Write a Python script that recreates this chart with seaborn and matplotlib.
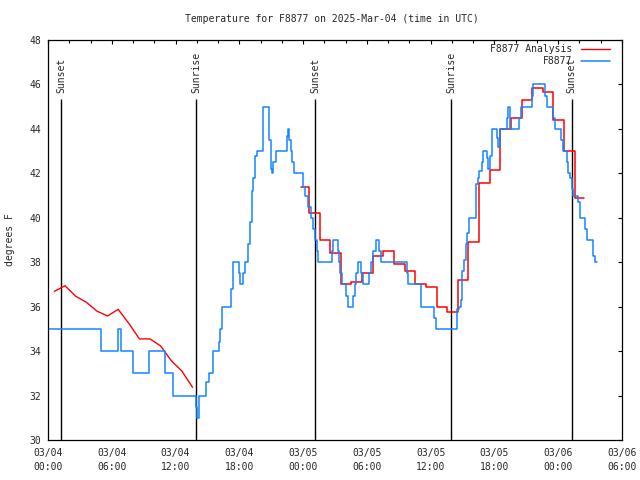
import pandas as pd
import numpy as np
import matplotlib
matplotlib.use("Agg")
import matplotlib.pyplot as plt
import matplotlib.dates as mdates
import seaborn as sns

# ---------------- data (hours after 2025-03-04 00:00 UTC) ----------------
obs_hours = [0.00, 4.94, 6.63, 6.91, 7.95, 9.50, 11.01, 11.76, 13.95, 14.06,
             14.25, 14.86, 15.10, 15.52, 16.09, 16.18, 16.37, 17.22, 17.36, 17.45,
             17.97, 18.06, 18.37, 18.53, 18.84, 19.00, 19.16, 19.31, 19.47, 19.63,
             20.25, 20.76, 20.98, 21.10, 21.19, 21.42, 22.51, 22.61, 22.70, 22.83,
             22.98, 23.14, 23.99, 24.18, 24.46, 24.71, 24.96, 25.12, 25.28, 25.43,
             26.69, 26.84, 27.25, 27.40, 27.47, 27.63, 28.01, 28.19, 28.72, 28.88,
             28.97, 29.13, 29.42, 29.66, 30.22, 30.36, 30.60, 30.86, 31.17, 31.30,
             33.74, 33.90, 35.09, 36.31, 36.47, 38.50, 38.66, 38.82, 38.97, 39.13,
             39.29, 39.39, 39.60, 40.26, 40.42, 40.57, 40.80, 40.95, 41.27, 41.42,
             41.58, 41.74, 42.27, 42.36, 42.52, 43.15, 43.30, 43.46, 44.31, 44.50,
             45.50, 45.65, 46.75, 46.91, 47.54, 47.69, 48.23, 48.42, 48.80, 48.95,
             49.11, 49.27, 49.42, 49.83, 50.05, 50.52, 50.67, 51.29, 51.45, 51.69]
obs_temps = [35, 34, 35, 34, 33, 34, 33, 32, 31.5, 31,
             32, 32.6, 33, 34, 34.4, 35, 36, 36.8, 37.5, 38,
             37.5, 37, 37.5, 38, 38.8, 39.8, 41.2, 41.8, 42.8, 43,
             45, 43.5, 42.2, 42, 42.5, 43, 43.7, 44, 43.5, 43,
             42.5, 42, 41.4, 41, 40.5, 40, 39.5, 39, 38.5, 38,
             38.5, 39, 38.5, 38, 37.5, 37, 36.5, 36, 36.5, 37,
             37.5, 38, 37.5, 37, 37.5, 38, 38.5, 39, 38.5, 38,
             37.5, 37, 36, 35.5, 35, 35.9, 36, 36.3, 37.6, 38.1,
             38.8, 39.3, 40, 41.5, 41.8, 42.1, 42.5, 43, 42.7, 42.2,
             42.8, 44, 43.6, 43.2, 44, 44.5, 45, 44, 44.5, 45,
             45.5, 46, 45.5, 45, 44.5, 44, 43.5, 43, 42.5, 42,
             41.8, 41.3, 41, 40.7, 40, 39.5, 39, 38.3, 38, 38]

ana1_hours = [0.6, 1.6, 2.6, 3.6, 4.6, 5.6, 6.6, 7.6, 8.6, 9.6, 10.6, 11.6, 12.6, 13.6]
ana1_temps = [36.69, 36.94, 36.47, 36.2, 35.8, 35.58, 35.88, 35.25, 34.55, 34.55,
              34.23, 33.57, 33.1, 32.37]

ana2_hours = [23.82, 24.55, 25.55, 26.55, 27.55, 28.55, 29.55, 30.55, 31.55, 32.55,
              33.55, 34.55, 35.55, 36.55, 37.55, 38.55, 39.55, 40.55, 41.55, 42.55,
              43.55, 44.55, 45.55, 46.55, 47.55, 48.55, 49.55, 50.45]
ana2_temps = [41.4, 40.2, 39.0, 38.4, 37.0, 37.1, 37.5, 38.3, 38.5, 37.9,
              37.6, 37.0, 36.9, 36.0, 35.75, 37.2, 38.9, 41.55, 42.15, 44.0,
              44.5, 45.3, 45.83, 45.65, 44.4, 43.0, 40.9, 40.9]

sun_hours = [1.22, 13.92, 25.15, 37.94, 49.27]
sun_labels = ["Sunset", "Sunrise", "Sunset", "Sunrise", "Sunset"]

title = "Temperature for F8877 on 2025-Mar-04 (time in UTC)"
ylabel = "degrees F"
obs_name = "F8877"
ana_name = "F8877 Analysis"

# ---------------- build frames ----------------
base = pd.Timestamp("2025-03-04 00:00")
def to_time(h):
    return base + pd.to_timedelta(np.asarray(h, dtype=float), unit="h")

obs_df = pd.DataFrame({"time": to_time(obs_hours), "temp": obs_temps})
a1_df = pd.DataFrame({"time": to_time(ana1_hours), "temp": ana1_temps})
a2_df = pd.DataFrame({"time": to_time(ana2_hours), "temp": ana2_temps})
sun_times = to_time(sun_hours)

# ---------------- style ----------------
sns.set_style("white")
mono = ["DejaVu Sans Mono", "DejaVu Sans"]
plt.rcParams["font.family"] = mono
FS = 7.0

RED = "#ff0000"
BLUE = "#1485ff"

fig = plt.figure(figsize=(6.4, 4.8), dpi=100)
ax = fig.add_axes([48 / 640, 1 - 440 / 480, 574 / 640, 400 / 480])

sns.lineplot(data=a1_df, x="time", y="temp", ax=ax, color=RED, lw=1.0,
             label=ana_name, errorbar=None)
sns.lineplot(data=a2_df, x="time", y="temp", ax=ax, color=RED, lw=1.1,
             drawstyle="steps-post", errorbar=None)
sns.lineplot(data=obs_df, x="time", y="temp", ax=ax, color=BLUE, lw=1.1,
             drawstyle="steps-post", label=obs_name, errorbar=None)

ax.vlines(sun_times, 30, 45.35, color="black", lw=1.0, zorder=1)
for t, lab in zip(sun_times, sun_labels):
    ax.text(t, 45.62, lab, rotation=90, ha="center", va="bottom",
            fontsize=FS, family=mono)

ax.set_xlim(base, base + pd.Timedelta(hours=54))
ax.set_ylim(30, 48)
ax.set_yticks(np.arange(30, 49, 2))
ax.xaxis.set_major_locator(mdates.HourLocator(byhour=[0, 6, 12, 18]))
ax.xaxis.set_minor_locator(mdates.HourLocator(interval=2))
ax.xaxis.set_major_formatter(mdates.DateFormatter("%m/%d\n%H:%M"))

ax.tick_params(which="both", direction="in", top=True, right=True,
               color="black", width=0.8, labelsize=FS)
ax.tick_params(axis="x", pad=6)
ax.tick_params(axis="y", pad=5)
ax.tick_params(which="major", length=3.2)
ax.tick_params(which="minor", length=2.4)
for lbl in ax.get_xticklabels():
    lbl.set_linespacing(1.4)
for s in ax.spines.values():
    s.set_visible(True)
    s.set_color("black")
    s.set_linewidth(0.9)

ax.set_xlabel("")
ax.set_ylabel(ylabel, fontsize=FS, labelpad=10)
fig.text(332 / 640, 1 - 19 / 480, title, ha="center", va="center", fontsize=FS)

handles, labels = ax.get_legend_handles_labels()
order = [labels.index(ana_name), labels.index(obs_name)]
leg = ax.legend([handles[i] for i in order], [labels[i] for i in order],
                loc="upper right", bbox_to_anchor=(1 - 12 / 574, 1 - 4 / 400),
                frameon=False, markerfirst=False, fontsize=FS,
                handlelength=3.0, handletextpad=0.9, labelspacing=0.25,
                borderpad=0, borderaxespad=0)

fig.savefig("out.png", dpi=100)
